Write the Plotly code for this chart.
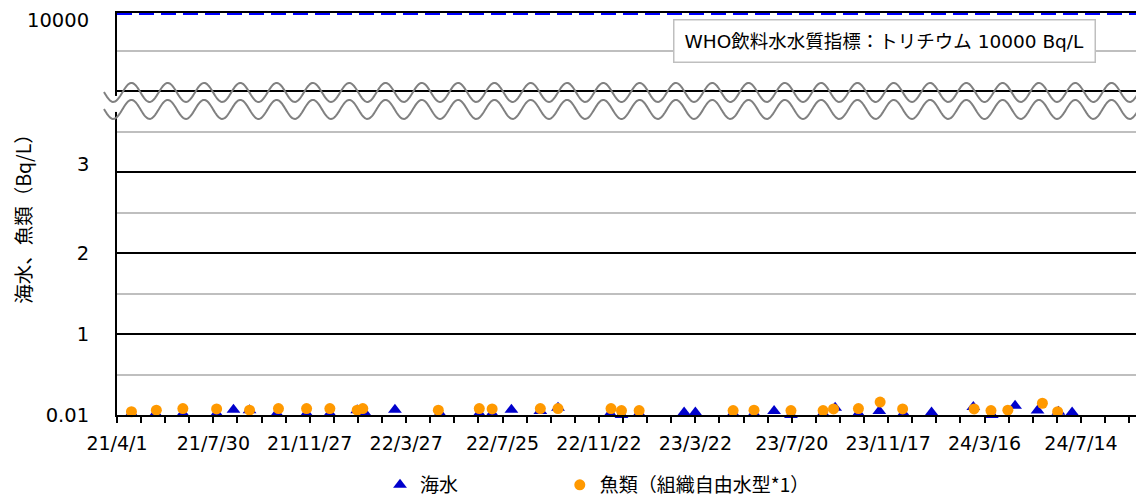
import numpy as np
import plotly.graph_objects as go

# --- datos ---
sea_dates = ["2021-04-19", "2021-05-19", "2021-06-22", "2021-08-03", "2021-08-24", "2021-09-13",
             "2021-10-17", "2021-11-23", "2021-12-22", "2022-01-25", "2022-02-04", "2022-03-13",
             "2022-05-08", "2022-06-26", "2022-07-12", "2022-08-05", "2022-09-10", "2022-10-02",
             "2022-12-06", "2022-12-20", "2023-01-11", "2023-03-08", "2023-03-22", "2023-05-08",
             "2023-06-03", "2023-06-28", "2023-07-19", "2023-08-28", "2023-09-12", "2023-10-11",
             "2023-11-06", "2023-12-06", "2024-01-10", "2024-03-02", "2024-03-25", "2024-04-23",
             "2024-05-21", "2024-06-16", "2024-07-03"]
sea_vals = [0.02, 0.02, 0.02, 0.02, 0.065, 0.06, 0.02, 0.02, 0.02, 0.06, 0.02, 0.065,
            0.02, 0.02, 0.02, 0.065, 0.05, 0.09, 0.02, 0.0, 0.02, 0.03, 0.03, 0.02,
            0.02, 0.05, 0.0, 0.02, 0.09, 0.02, 0.05, 0.02, 0.03, 0.10, 0.0, 0.115,
            0.055, 0.04, 0.03]

fish_dates = ["2021-04-19", "2021-05-20", "2021-06-22", "2021-08-03", "2021-09-13", "2021-10-19",
              "2021-11-23", "2021-12-22", "2022-01-25", "2022-02-01", "2022-05-06", "2022-06-26",
              "2022-07-12", "2022-09-10", "2022-10-02", "2022-12-07", "2022-12-20", "2023-01-11",
              "2023-05-08", "2023-06-03", "2023-07-19", "2023-08-28", "2023-09-10", "2023-10-11",
              "2023-11-07", "2023-12-05", "2024-03-03", "2024-03-24", "2024-04-14", "2024-05-27",
              "2024-06-15"]
fish_vals = [0.04, 0.06, 0.08, 0.075, 0.06, 0.08, 0.08, 0.08, 0.06, 0.08, 0.06, 0.08,
             0.075, 0.08, 0.08, 0.08, 0.055, 0.055, 0.055, 0.06, 0.055, 0.055, 0.075, 0.08,
             0.16, 0.075, 0.075, 0.055, 0.06, 0.145, 0.04]

x_tickvals = ["2021-04-01", "2021-07-30", "2021-11-27", "2022-03-27", "2022-07-25", "2022-11-22",
              "2023-03-22", "2023-07-20", "2023-11-17", "2024-03-16", "2024-07-14"]
x_ticktext = ["21/4/1", "21/7/30", "21/11/27", "22/3/27", "22/7/25", "22/11/22",
              "23/3/22", "23/7/20", "23/11/17", "24/3/16", "24/7/14"]

Y_TOP = 4.963          # posición del tramo 10000 sobre el corte
y_tickvals = [0, 1, 2, 3, 4, Y_TOP]
y_ticktext = ["0.01", "1", "2", "", "", ""]
# etiquetas desplazadas respecto a su línea (como en el original): valor, texto, desplazamiento px
y_extra = [(3, "3", 8), (Y_TOP, "10000", -7)]

FONT = "DejaVu Sans, Noto Sans CJK JP, sans-serif"
FONT_JP = "Noto Sans CJK JP, DejaVu Sans, sans-serif"
AZUL = "#0000CC"
NARANJA = "#FF9900"

# la página añade 8 px de margen: todo en coordenadas de la figura
W, H = 1136, 490
L, R, T, B = 109, 1134, 5, 407.3
PX_UNIT = (B - T) / Y_TOP


def px2paper(px):
    return (px - L) / (R - L)


def py2y(py):
    return (B - py) / PX_UNIT


def onda(py_centro, amp=9.5, periodo=36.3, x0=96, x1=1137):
    xs = np.arange(x0, x1, 1.0)
    ys = py_centro + amp * np.cos(2 * np.pi * (xs - 105.3) / periodo)
    pts = [f"{px2paper(a):.5f},{py2y(b):.4f}" for a, b in zip(xs, ys)]
    return "M" + " L".join(pts)


fig = go.Figure()

fig.add_trace(go.Scatter(x=sea_dates, y=sea_vals, mode="markers", name="海水",
                         marker=dict(symbol="triangle-up", size=12, color=AZUL),
                         cliponaxis=False, legend="legend", showlegend=True))
fig.add_trace(go.Scatter(x=fish_dates, y=fish_vals, mode="markers", name="魚類（組織自由水型*1）",
                         marker=dict(symbol="circle", size=11, color=NARANJA),
                         cliponaxis=False, legend="legend2", showlegend=True))

shapes = [
    # línea WHO 10000
    dict(type="line", xref="paper", yref="y", x0=0, x1=1, y0=Y_TOP, y1=Y_TOP,
         line=dict(color="#0000FF", width=4, dash="15px,7px"), layer="above"),
    # hueco del eje izquierdo en el corte
    dict(type="rect", xref="paper", yref="y", x0=px2paper(105), x1=px2paper(113),
         y0=py2y(104), y1=py2y(88), fillcolor="white", line=dict(width=0), layer="above"),
    dict(type="path", xref="paper", yref="y", path=onda(84.5),
         line=dict(color="#808080", width=2), layer="above"),
    dict(type="path", xref="paper", yref="y", path=onda(101.5),
         line=dict(color="#808080", width=2), layer="above"),
]

annotations = [dict(xref="paper", yref="paper", x=px2paper(665), y=(B - 11) / (B - T),
                    xanchor="left", yanchor="top", align="left",
                    text="WHO飲料水水質指標：トリチウム 10000 Bq/L",
                    showarrow=False, font=dict(size=18.5, color="#000000"),
                    bgcolor="white", bordercolor="#BFBFBF", borderwidth=1.5, borderpad=10)]
for val, txt, shift in y_extra:
    annotations.append(dict(xref="paper", yref="y", x=px2paper(83), y=val, xanchor="right",
                            yanchor="middle", text=txt, showarrow=False, yshift=shift,
                            font=dict(size=19.5, color="#000000")))

leg_y = -70 / (B - T)
leg_common = dict(orientation="h", xanchor="left", y=leg_y, yanchor="middle",
                  font=dict(size=19, family=FONT_JP), itemwidth=30, bgcolor="rgba(0,0,0,0)")

fig.update_layout(
    width=W, height=H, showlegend=True,
    margin=dict(l=L, r=W - R, t=T, b=H - B, autoexpand=False),
    paper_bgcolor="white", plot_bgcolor="white",
    font=dict(family=FONT, size=18, color="#000000"),
    shapes=shapes,
    xaxis=dict(type="date", range=["2021-04-01", "2024-09-28"], automargin=False,
               tickvals=x_tickvals, ticktext=x_ticktext,
               showgrid=False, showline=True, linecolor="black", linewidth=2, mirror=True,
               ticks="outside", ticklen=6, tickwidth=1.5, tickcolor="black",
               tickfont=dict(size=19), ticklabelstandoff=4,
               minor=dict(dtick=30 * 86400000, tick0="2021-04-01", ticks="outside",
                          ticklen=6, tickwidth=1.5, tickcolor="black", showgrid=False)),
    yaxis=dict(range=[0, Y_TOP], tickvals=y_tickvals, ticktext=y_ticktext, automargin=False,
               showgrid=True, gridcolor="black", gridwidth=1.5, zeroline=False,
               showline=True, linecolor="black", linewidth=2, mirror=True,
               ticks="", tickfont=dict(size=19.5), ticklabelstandoff=22,
               ticklabeloverflow="allow",
               title=dict(text="海水、魚類（Bq/L）", font=dict(size=19.5, family=FONT_JP),
                          standoff=22),
               minor=dict(dtick=0.5, tick0=0, showgrid=True, gridcolor="#BFBFBF", gridwidth=1.5)),
    legend=dict(x=0.2566, **leg_common),
    legend2=dict(x=0.432, **leg_common),
    annotations=annotations,
)

fig.write_html("out.html")
